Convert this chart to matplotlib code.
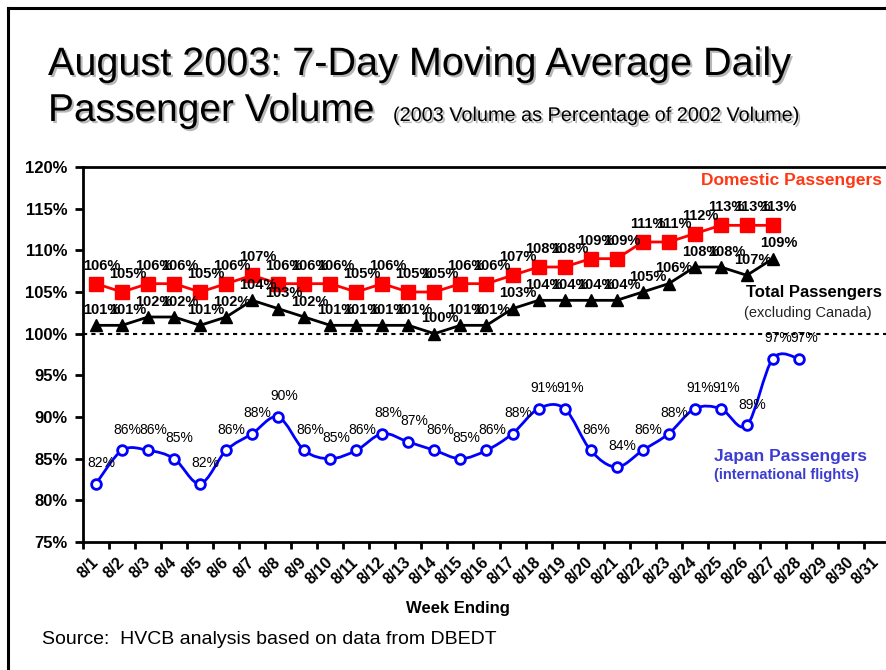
import matplotlib
matplotlib.use("Agg")
import matplotlib.pyplot as plt
import matplotlib.patheffects as pe
from matplotlib.path import Path
from matplotlib.patches import PathPatch
from matplotlib.lines import Line2D
import numpy as np

plt.rcParams['font.family'] = ['Liberation Sans', 'DejaVu Sans']

# ---------------- data ----------------
day_labels = ["8/%d" % d for d in range(1, 32)]
domestic = [106, 105, 106, 106, 105, 106, 107, 106, 106, 106, 105, 106, 105, 105,
            106, 106, 107, 108, 108, 109, 109, 111, 111, 112, 113, 113, 113]
total = [101, 101, 102, 102, 101, 102, 104, 103, 102, 101, 101, 101, 101, 100,
         101, 101, 103, 104, 104, 104, 104, 105, 106, 108, 108, 107, 109]
japan = [82, 86, 86, 85, 82, 86, 88, 90, 86, 85, 86, 88, 87, 86, 85, 86, 88, 91,
         91, 86, 84, 86, 88, 91, 91, 89, 97, 97]
y_ticks = [75, 80, 85, 90, 95, 100, 105, 110, 115, 120]

W, H = 886, 670
fig = plt.figure(figsize=(W / 100, H / 100), dpi=100)

def fx(px):
    return px / W

def fy(py):
    return 1 - py / H

# axes (right edge extends past the cropped image)
ax_l, ax_r, ax_t, ax_b = 83, 890, 167, 542
ax = fig.add_axes([fx(ax_l), fy(ax_b), fx(ax_r - ax_l), (ax_b - ax_t) / H])
ax.set_xlim(-0.5, len(day_labels) - 0.5)
ax.set_ylim(75, 120)

for s in ['left', 'bottom', 'top']:
    ax.spines[s].set_linewidth(2)
ax.spines['right'].set_visible(False)

ax.set_yticks(y_ticks)
ax.set_yticklabels(["%d%%" % v for v in y_ticks], fontsize=12, fontweight='bold')
ax.tick_params(axis='y', length=6, width=2, pad=5, direction='out')

ax.set_xticks(np.arange(len(day_labels) + 1) - 0.5)
ax.set_xticklabels([])
ax.tick_params(axis='x', which='major', length=5, width=2, direction='out')
ax.set_xticks(np.arange(len(day_labels)), minor=True)
ax.set_xticklabels(day_labels, minor=True, rotation=45, ha='right', va='center',
                   rotation_mode='anchor', fontsize=11.5, fontweight='bold')
ax.tick_params(axis='x', which='minor', length=0, pad=13)

# 100% reference line
ax.axhline(100, color='black', lw=1.5, ls=(0, (2, 2)), zorder=1)

xd = np.arange(len(domestic))
xt = np.arange(len(total))
xj = np.arange(len(japan))

ax.plot(xd, domestic, color='#FF0000', lw=2, marker='s', ms=9.5, mec='#FF0000',
        mfc='#FF0000', zorder=4)
ax.plot(xt, total, color='black', lw=2, marker='^', ms=9, zorder=4)

# smoothed Japan line (Bezier through the data points)
pts = np.column_stack([xj, japan]).astype(float)
verts = [tuple(pts[0])]
codes = [Path.MOVETO]
n = len(pts)
for i in range(n - 1):
    p0 = pts[i - 1] if i > 0 else pts[i]
    p1 = pts[i]
    p2 = pts[i + 1]
    p3 = pts[i + 2] if i + 2 < n else pts[i + 1]
    c1 = p1 + (p2 - p0) / 6.0
    c2 = p2 - (p3 - p1) / 6.0
    verts += [tuple(c1), tuple(c2), tuple(p2)]
    codes += [Path.CURVE4] * 3
ax.add_patch(PathPatch(Path(verts, codes), fill=False, edgecolor='#0000FF', lw=2,
                       zorder=3))
ax.plot(xj, japan, ls='none', marker='o', ms=7, mfc='white', mec='#0000FF', mew=2,
        zorder=5)

# data labels
for x, v in zip(xd, domestic):
    ax.annotate("%d%%" % v, (x, v), xytext=(4, 13), textcoords='offset points',
                ha='center', va='center', fontsize=10.5, fontweight='bold', zorder=6)
for x, v in zip(xt, total):
    ax.annotate("%d%%" % v, (x, v), xytext=(4, 11), textcoords='offset points',
                ha='center', va='center', fontsize=10.5, fontweight='bold', zorder=6)
for x, v in zip(xj, japan):
    ax.annotate("%d%%" % v, (x, v), xytext=(4, 15), textcoords='offset points',
                ha='center', va='center', fontsize=10, zorder=6)

# series captions
fig.text(fx(701), fy(181), "Domestic Passengers", color='#FF3814', fontsize=12.5,
         fontweight='bold', ha='left', va='center')
fig.text(fx(746), fy(293), "Total Passengers", color='black', fontsize=12,
         fontweight='bold', ha='left', va='center')
fig.text(fx(744), fy(313), "(excluding Canada)", color='#222222', fontsize=10.5,
         ha='left', va='center')
fig.text(fx(714), fy(456), "Japan Passengers", color='#3C3CD2', fontsize=12.5,
         fontweight='bold', ha='left', va='center')
fig.text(fx(714), fy(475), "(international flights)", color='#3C3CD2', fontsize=10.5,
         fontweight='bold', ha='left', va='center')

# axis title and source
fig.text(fx(458), fy(609), "Week Ending", fontsize=12, fontweight='bold',
         ha='center', va='center')
fig.text(fx(42), fy(640), "Source:  HVCB analysis based on data from DBEDT",
         fontsize=14, ha='left', va='center')

# title with shadow
shadow = [pe.withSimplePatchShadow(offset=(1.5, -1.5), shadow_rgbFace='#888888',
                                   alpha=0.6)]
fig.text(fx(48), fy(75), "August 2003: 7-Day Moving Average Daily", fontsize=28.5,
         ha='left', va='baseline', path_effects=shadow)
fig.text(fx(48), fy(121), "Passenger Volume", fontsize=28,
         ha='left', va='baseline', path_effects=shadow)
fig.text(fx(393), fy(121), "(2003 Volume as Percentage of 2002 Volume)", fontsize=14.3,
         ha='left', va='baseline', path_effects=shadow)

# slide border (left and top)
fig.add_artist(Line2D([fx(8), fx(8)], [fy(8), 0], color='black', lw=2.2,
                      transform=fig.transFigure))
fig.add_artist(Line2D([fx(8), 1], [fy(8), fy(8)], color='black', lw=2.2,
                      transform=fig.transFigure))

fig.savefig("out.png", dpi=100)
